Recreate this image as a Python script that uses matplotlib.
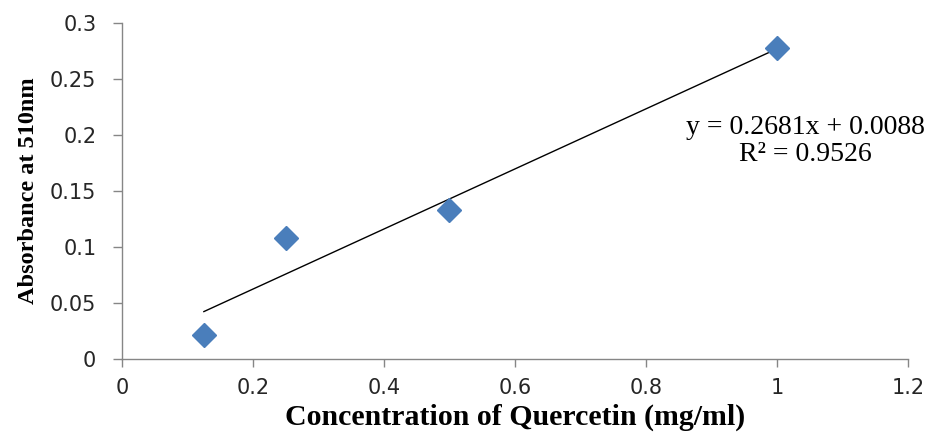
import numpy as np
import matplotlib
matplotlib.use("Agg")
import matplotlib.pyplot as plt

# data
conc = [0.125, 0.25, 0.5, 1.0]
absorb = [0.021, 0.108, 0.133, 0.278]
slope, intercept = 0.2681, 0.0088
r2 = 0.9526

x_ticks = [0, 0.2, 0.4, 0.6, 0.8, 1, 1.2]
y_ticks = [0, 0.05, 0.1, 0.15, 0.2, 0.25, 0.3]

BLUE, AXIS, TXT = "#4A7EBB", "#868686", "#262626"

fig = plt.figure(figsize=(9.27, 4.32), dpi=100)
ax = fig.add_axes([0.1316, 0.169, 0.8479, 0.778])

# trendline over data range
xs = np.array([min(conc), max(conc)])
ax.plot(xs, slope * xs + intercept, color="black", lw=1.0, zorder=2)
ax.plot(conc, absorb, linestyle="none", marker="D", markersize=12,
        color=BLUE, markeredgecolor=BLUE, zorder=3)

ax.set_xlim(0, 1.2)
ax.set_ylim(0, 0.3)
ax.set_xticks(x_ticks)
ax.set_xticklabels([f"{t:g}" for t in x_ticks])
ax.set_yticks(y_ticks)
ax.set_yticklabels([f"{t:g}" for t in y_ticks])

for sp in ["top", "right"]:
    ax.spines[sp].set_visible(False)
for sp in ["left", "bottom"]:
    ax.spines[sp].set_color(AXIS)
    ax.spines[sp].set_linewidth(1.0)
ax.tick_params(axis="both", colors=AXIS, width=1.0,
               labelcolor=TXT, labelsize=15)
ax.tick_params(axis="y", pad=12, length=6.5)
ax.tick_params(axis="x", pad=8, length=5.5)
for lab in ax.get_xticklabels() + ax.get_yticklabels():
    lab.set_family("DejaVu Sans")

ax.set_xlabel("Concentration of Quercetin (mg/ml)", family="Liberation Serif",
              fontweight="bold", fontsize=21.5, color="black", labelpad=4)
ax.set_ylabel("Absorbance at 510nm", family="Liberation Serif",
              fontweight="bold", fontsize=17.5, color="black", labelpad=8)

# trendline equation, kept just inside the right edge
ax.text(1.044, 0.1946, f"y = {slope}x + {intercept}\nR² = {r2}",
        family="Liberation Serif", fontsize=20, color="black",
        ha="center", va="center", linespacing=1.15, clip_on=False)

fig.savefig("out.png", dpi=100)
